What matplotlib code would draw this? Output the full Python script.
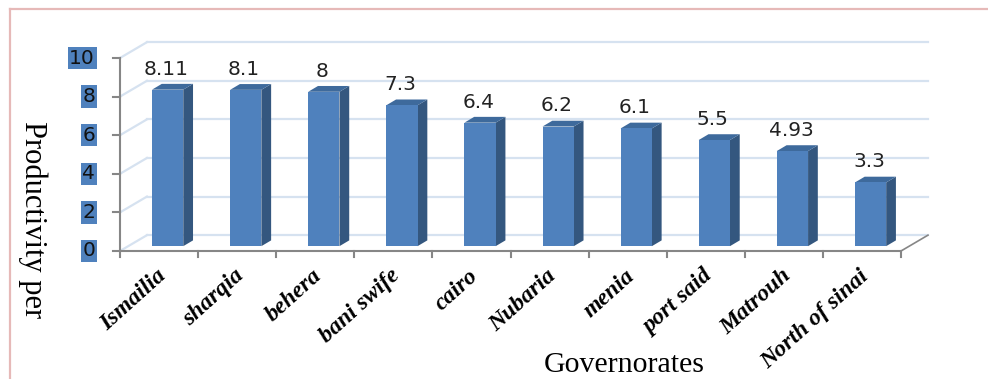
import matplotlib
matplotlib.use("Agg")
import matplotlib.pyplot as plt
from matplotlib.patches import Polygon, Rectangle
from matplotlib.lines import Line2D
import numpy as np

# data
governorates = ["Ismailia", "sharqia", "behera", "bani swife", "cairo",
                "Nubaria", "menia", "port said", "Matrouh", "North of sinai"]
productivity = [8.11, 8.1, 8, 7.3, 6.4, 6.2, 6.1, 5.5, 4.93, 3.3]
value_labels = ["8.11", "8.1", "8", "7.3", "6.4", "6.2", "6.1", "5.5", "4.93", "3.3"]
y_ticks = [0, 2, 4, 6, 8, 10]

# colours
FRONT = "#4F81BD"
SIDE = "#34577F"
TOP = "#3E6A9C"
GRID = "#D6E2F0"
AXIS = "#868686"

# fake 3d depth (in data units)
DX, DY = 0.345, 0.82          # wall depth
BX, BY = 0.11, 0.25           # bar front face shift
BDX, BDY = 0.125, 0.30        # bar depth
W = 0.40                      # bar width

fig = plt.figure(figsize=(9.88, 3.79), dpi=100)
ax = fig.add_axes([120 / 988, 128 / 379, 781 / 988, 193 / 379])
ax.set_xlim(-0.5, 9.5)
ax.set_ylim(0, 10)
ax.axis("off")

n = len(governorates)
x0, x1 = -0.5, n - 0.5

# back wall gridlines + left wall diagonals
for t in y_ticks:
    ax.add_line(Line2D([x0 + DX, x1 + DX], [t + DY, t + DY], color=GRID, lw=1.6, clip_on=False, zorder=1))
    ax.add_line(Line2D([x0, x0 + DX], [t, t + DY], color=GRID, lw=1.6, clip_on=False, zorder=1))

# floor right edge
ax.add_line(Line2D([x1, x1 + DX], [0, DY], color=AXIS, lw=1.2, clip_on=False, zorder=2))

# front axes
ax.add_line(Line2D([x0, x0], [0, 10], color=AXIS, lw=1.5, clip_on=False, zorder=3))
ax.add_line(Line2D([x0, x1], [0, 0], color=AXIS, lw=1.5, clip_on=False, zorder=3))
for t in y_ticks:
    ax.add_line(Line2D([x0 - 0.09, x0], [t, t], color=AXIS, lw=1.5, clip_on=False, zorder=3))
    ax.text(x0 - 0.32, t, str(t), ha="right", va="center", fontsize=14.5, color="#111111",
            bbox=dict(facecolor=FRONT, edgecolor="none", pad=1.2), zorder=4)
for k in range(n + 1):
    xb = x0 + k
    ax.add_line(Line2D([xb, xb], [0, -0.33], color=AXIS, lw=1.5, clip_on=False, zorder=3))

# bars
for i, v in enumerate(productivity):
    l = i - W / 2 + BX
    r = i + W / 2 + BX
    b = BY
    t = v + BY
    ax.add_patch(Polygon([(r, b), (r + BDX, b + BDY), (r + BDX, t + BDY), (r, t)],
                         closed=True, facecolor=SIDE, edgecolor="none", zorder=5))
    ax.add_patch(Polygon([(l, t), (l + BDX, t + BDY), (r + BDX, t + BDY), (r, t)],
                         closed=True, facecolor=TOP, edgecolor="none", zorder=5))
    ax.add_patch(Rectangle((l, b), W, v, facecolor=FRONT, edgecolor="none", zorder=6))
    ax.text(i + BX - 0.02, t + 0.78, value_labels[i], ha="center", va="baseline",
            fontsize=14.5, color="#222222", zorder=7)
    ax.text(i + 0.05, -1.15, governorates[i], rotation=42, rotation_mode="anchor",
            ha="right", va="center", fontsize=17, family="Liberation Serif",
            fontweight="bold", fontstyle="italic", zorder=7)

# axis titles
fig.text(33 / 988, 1 - 220 / 379, "Productivity per", rotation=270, ha="center", va="center",
         fontsize=22, family="Liberation Serif")
fig.text(624 / 988, 1 - 372 / 379, "Governorates", ha="center", va="baseline",
         fontsize=21.5, family="Liberation Serif")

# pink frame
fig.add_artist(Line2D([10 / 988, 10 / 988], [0, 1 - 9 / 379], transform=fig.transFigure,
                      color="#E6B9B8", lw=1.6))
fig.add_artist(Line2D([10 / 988, 1], [1 - 9 / 379, 1 - 9 / 379], transform=fig.transFigure,
                      color="#E6B9B8", lw=1.6))

fig.savefig("out.png", dpi=100)
